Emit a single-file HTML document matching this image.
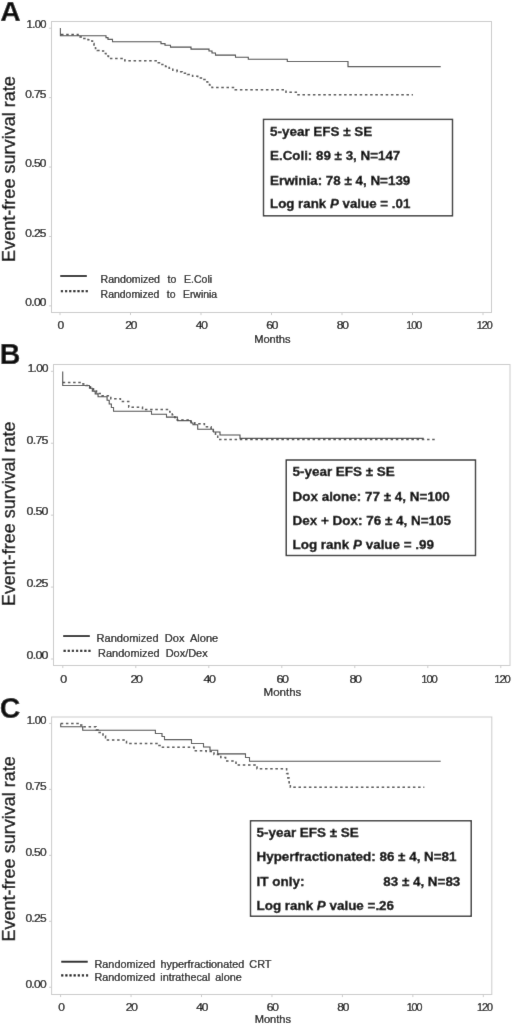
<!DOCTYPE html>
<html><head><meta charset="utf-8"><title>Figure</title>
<style>
html,body{margin:0;padding:0;background:#fff;}
svg{display:block;font-family:"Liberation Sans",sans-serif;}
text{stroke:#000;stroke-width:0.22px;}
</style></head>
<body>
<svg width="520" height="1026" viewBox="0 0 520 1026">
<defs><filter id="sf" x="0" y="0" width="520" height="1026" filterUnits="userSpaceOnUse"><feConvolveMatrix order="3" kernelMatrix="0.01 0.055 0.01 0.055 0.74 0.055 0.01 0.055 0.01" edgeMode="duplicate" preserveAlpha="true"/></filter></defs>
<g filter="url(#sf)">
<rect width="520" height="1026" fill="#fff"/>
<rect x="51.5" y="21.5" width="440.0" height="291.0" fill="none" stroke="#cbcbcb" stroke-width="1"/>
<line x1="60.00" y1="312.5" x2="60.00" y2="315.1" stroke="#cbcbcb" stroke-width="1"/>
<text x="57.56" y="329.10" font-size="10" letter-spacing="-1.00" textLength="5.47" lengthAdjust="spacingAndGlyphs" fill="#000">0</text>
<line x1="130.50" y1="312.5" x2="130.50" y2="315.1" stroke="#cbcbcb" stroke-width="1"/>
<text x="125.33" y="329.10" font-size="10" letter-spacing="-1.00" textLength="10.94" lengthAdjust="spacingAndGlyphs" fill="#000">20</text>
<line x1="201.00" y1="312.5" x2="201.00" y2="315.1" stroke="#cbcbcb" stroke-width="1"/>
<text x="195.83" y="329.10" font-size="10" letter-spacing="-1.00" textLength="10.94" lengthAdjust="spacingAndGlyphs" fill="#000">40</text>
<line x1="271.50" y1="312.5" x2="271.50" y2="315.1" stroke="#cbcbcb" stroke-width="1"/>
<text x="266.33" y="329.10" font-size="10" letter-spacing="-1.00" textLength="10.94" lengthAdjust="spacingAndGlyphs" fill="#000">60</text>
<line x1="342.00" y1="312.5" x2="342.00" y2="315.1" stroke="#cbcbcb" stroke-width="1"/>
<text x="336.83" y="329.10" font-size="10" letter-spacing="-1.00" textLength="10.94" lengthAdjust="spacingAndGlyphs" fill="#000">80</text>
<line x1="412.50" y1="312.5" x2="412.50" y2="315.1" stroke="#cbcbcb" stroke-width="1"/>
<text x="406.34" y="329.10" font-size="10" letter-spacing="-1.00" textLength="14.72" lengthAdjust="spacingAndGlyphs" fill="#000">100</text>
<line x1="483.00" y1="312.5" x2="483.00" y2="315.1" stroke="#cbcbcb" stroke-width="1"/>
<text x="476.84" y="329.10" font-size="10" letter-spacing="-1.00" textLength="14.72" lengthAdjust="spacingAndGlyphs" fill="#000">120</text>
<line x1="48.9" y1="305.90" x2="51.5" y2="305.90" stroke="#cbcbcb" stroke-width="1"/>
<text x="25.33" y="306.00" font-size="10" letter-spacing="-0.60" textLength="20.47" lengthAdjust="spacingAndGlyphs" fill="#000">0.00</text>
<line x1="48.9" y1="236.47" x2="51.5" y2="236.47" stroke="#cbcbcb" stroke-width="1"/>
<text x="25.33" y="236.57" font-size="10" letter-spacing="-0.60" textLength="20.47" lengthAdjust="spacingAndGlyphs" fill="#000">0.25</text>
<line x1="48.9" y1="167.05" x2="51.5" y2="167.05" stroke="#cbcbcb" stroke-width="1"/>
<text x="25.33" y="167.15" font-size="10" letter-spacing="-0.60" textLength="20.47" lengthAdjust="spacingAndGlyphs" fill="#000">0.50</text>
<line x1="48.9" y1="97.62" x2="51.5" y2="97.62" stroke="#cbcbcb" stroke-width="1"/>
<text x="25.33" y="97.72" font-size="10" letter-spacing="-0.60" textLength="20.47" lengthAdjust="spacingAndGlyphs" fill="#000">0.75</text>
<line x1="48.9" y1="28.20" x2="51.5" y2="28.20" stroke="#cbcbcb" stroke-width="1"/>
<text x="26.63" y="28.30" font-size="10" letter-spacing="-0.60" textLength="19.17" lengthAdjust="spacingAndGlyphs" fill="#000">1.00</text>
<text x="254.20" y="343.3" font-size="10.6" textLength="36.4" lengthAdjust="spacingAndGlyphs" fill="#000">Months</text>
<text transform="translate(15.4,169.0) rotate(-90)" x="-92.90" font-size="17.8" textLength="185.8" lengthAdjust="spacingAndGlyphs" fill="#000" style="stroke-width:0.3px">Event-free survival rate</text>
<text x="0.3" y="21" font-size="28.4" font-weight="bold" fill="#0a0a0a">A</text>
<path d="M61.00,34.60H78.00V37.00H83.00V38.50H88.00V39.80H91.00V41.00H92.50V43.50H94.00V46.00H95.50V48.50H97.30V50.50H100.00V50.90H103.50V53.40H106.00V56.00H108.50V58.50H123.00V59.70H124.80V60.80H158.31V62.68H161.93V64.56H165.55V66.44H169.17V68.32H172.79V70.20H177.17V71.67H182.30V73.13H187.43V74.60H192.57V76.27H197.70V77.93H202.83V79.60H207.00V82.00H209.50V85.00H212.00V87.50H235.20V89.70H286.00V92.20H296.30V94.70H413.00" fill="none" stroke="#484848" stroke-width="1.5" stroke-dasharray="2.5 2.7"/>
<path d="M60.40,28.00H60.40V35.70H106.00V37.60H108.00V39.40H112.50V41.70H161.00V43.60H165.00V45.30H170.50V47.10H191.00V49.10H209.00V51.00H212.00V53.00H215.50V55.10H235.50V57.20H248.30V59.20H287.30V61.50H348.00V66.60H440.70" fill="none" stroke="#444" stroke-width="1.1"/>
<line x1="60.3" y1="276.0" x2="86.8" y2="276.0" stroke="#000" stroke-width="1.85"/>
<line x1="60.85" y1="291.1" x2="87.83" y2="291.1" stroke="#000" stroke-width="2.3" stroke-dasharray="2.2 1.94"/>
<text x="100.6" y="283" font-size="10.3" word-spacing="4.5" fill="#000" textLength="111.6" lengthAdjust="spacingAndGlyphs">Randomized to E.Coli</text>
<text x="100.6" y="297.5" font-size="10.3" word-spacing="4.5" fill="#000" textLength="116.6" lengthAdjust="spacingAndGlyphs">Randomized to Erwinia</text>
<rect x="263.5" y="119.4" width="189.0" height="96.4" fill="#fff" stroke="#222" stroke-width="1.4"/>
<text x="270.0" y="135.95" font-size="12.2" font-weight="bold" fill="#000" style="stroke-width:0.3px" textLength="102.3" lengthAdjust="spacingAndGlyphs">5-year EFS ± SE</text>
<text x="270.0" y="160.2" font-size="12.2" font-weight="bold" fill="#000" style="stroke-width:0.3px" textLength="130.3" lengthAdjust="spacingAndGlyphs">E.Coli: 89 ± 3, N=147</text>
<text x="270.0" y="184.7" font-size="12.2" font-weight="bold" fill="#000" style="stroke-width:0.3px" textLength="140.3" lengthAdjust="spacingAndGlyphs">Erwinia: 78 ± 4, N=139</text>
<text x="270.0" y="208.45" font-size="12.2" font-weight="bold" fill="#000" style="stroke-width:0.3px" textLength="140.3" lengthAdjust="spacingAndGlyphs">Log rank <tspan font-style="italic">P</tspan> value = .01</text>
<rect x="53.5" y="364.5" width="456.5" height="301.0" fill="none" stroke="#cbcbcb" stroke-width="1"/>
<line x1="62.80" y1="665.5" x2="62.80" y2="668.1" stroke="#cbcbcb" stroke-width="1"/>
<text x="60.28" y="683.10" font-size="10.4" letter-spacing="-1.04" textLength="5.69" lengthAdjust="spacingAndGlyphs" fill="#000">0</text>
<line x1="135.80" y1="665.5" x2="135.80" y2="668.1" stroke="#cbcbcb" stroke-width="1"/>
<text x="130.43" y="683.10" font-size="10.4" letter-spacing="-1.04" textLength="11.38" lengthAdjust="spacingAndGlyphs" fill="#000">20</text>
<line x1="208.80" y1="665.5" x2="208.80" y2="668.1" stroke="#cbcbcb" stroke-width="1"/>
<text x="203.43" y="683.10" font-size="10.4" letter-spacing="-1.04" textLength="11.38" lengthAdjust="spacingAndGlyphs" fill="#000">40</text>
<line x1="281.80" y1="665.5" x2="281.80" y2="668.1" stroke="#cbcbcb" stroke-width="1"/>
<text x="276.43" y="683.10" font-size="10.4" letter-spacing="-1.04" textLength="11.38" lengthAdjust="spacingAndGlyphs" fill="#000">60</text>
<line x1="354.80" y1="665.5" x2="354.80" y2="668.1" stroke="#cbcbcb" stroke-width="1"/>
<text x="349.43" y="683.10" font-size="10.4" letter-spacing="-1.04" textLength="11.38" lengthAdjust="spacingAndGlyphs" fill="#000">80</text>
<line x1="427.80" y1="665.5" x2="427.80" y2="668.1" stroke="#cbcbcb" stroke-width="1"/>
<text x="421.34" y="683.10" font-size="10.4" letter-spacing="-1.04" textLength="15.37" lengthAdjust="spacingAndGlyphs" fill="#000">100</text>
<line x1="500.80" y1="665.5" x2="500.80" y2="668.1" stroke="#cbcbcb" stroke-width="1"/>
<text x="494.34" y="683.10" font-size="10.4" letter-spacing="-1.04" textLength="15.37" lengthAdjust="spacingAndGlyphs" fill="#000">120</text>
<line x1="50.9" y1="659.00" x2="53.5" y2="659.00" stroke="#cbcbcb" stroke-width="1"/>
<text x="26.51" y="659.30" font-size="10.4" letter-spacing="-0.62" textLength="21.29" lengthAdjust="spacingAndGlyphs" fill="#000">0.00</text>
<line x1="50.9" y1="587.08" x2="53.5" y2="587.08" stroke="#cbcbcb" stroke-width="1"/>
<text x="26.51" y="587.38" font-size="10.4" letter-spacing="-0.62" textLength="21.29" lengthAdjust="spacingAndGlyphs" fill="#000">0.25</text>
<line x1="50.9" y1="515.15" x2="53.5" y2="515.15" stroke="#cbcbcb" stroke-width="1"/>
<text x="26.51" y="515.45" font-size="10.4" letter-spacing="-0.62" textLength="21.29" lengthAdjust="spacingAndGlyphs" fill="#000">0.50</text>
<line x1="50.9" y1="443.23" x2="53.5" y2="443.23" stroke="#cbcbcb" stroke-width="1"/>
<text x="26.51" y="443.53" font-size="10.4" letter-spacing="-0.62" textLength="21.29" lengthAdjust="spacingAndGlyphs" fill="#000">0.75</text>
<line x1="50.9" y1="371.30" x2="53.5" y2="371.30" stroke="#cbcbcb" stroke-width="1"/>
<text x="27.81" y="371.60" font-size="10.4" letter-spacing="-0.62" textLength="19.99" lengthAdjust="spacingAndGlyphs" fill="#000">1.00</text>
<text x="263.60" y="695.8" font-size="11" textLength="37.8" lengthAdjust="spacingAndGlyphs" fill="#000">Months</text>
<text transform="translate(15,513.8) rotate(-90)" x="-92.30" font-size="17.7" textLength="184.6" lengthAdjust="spacingAndGlyphs" fill="#000" style="stroke-width:0.3px">Event-free survival rate</text>
<text x="-0.2" y="364.4" font-size="28.6" font-weight="bold" fill="#0a0a0a">B</text>
<path d="M62.70,382.50H83.00V384.00H86.00V385.50H90.50V388.00H93.50V391.00H96.50V393.50H102.00V395.80H110.80V398.70H120.40V401.50H128.70V407.30H142.50V409.50H169.75V412.12H172.25V414.75H174.75V417.38H177.25V420.00H191.00V422.00H194.80V423.80H204.40V426.70H211.10V429.88H213.30V433.05H215.50V436.22H217.70V439.40H436.25" fill="none" stroke="#484848" stroke-width="1.5" stroke-dasharray="2.5 2.7"/>
<path d="M62.70,371.50H62.70V385.50H89.44V388.30H92.31V391.10H95.19V393.90H98.06V396.70H107.08V400.32H109.22V403.95H111.38V407.57H113.52V411.20H151.50V414.20H166.50V417.10H177.50V420.60H191.00V423.00H193.00V424.80H197.70V429.20H213.50V432.00H220.00V435.00H240.00V438.40H423.75" fill="none" stroke="#444" stroke-width="1.1"/>
<line x1="63.2" y1="636.1" x2="89.8" y2="636.1" stroke="#000" stroke-width="1.85"/>
<line x1="63.55" y1="650.9" x2="90.53" y2="650.9" stroke="#000" stroke-width="2.3" stroke-dasharray="2.2 1.94"/>
<text x="96.6" y="641.75" font-size="10.9" word-spacing="3" fill="#000" textLength="121.6" lengthAdjust="spacingAndGlyphs">Randomized Dox Alone</text>
<text x="98.1" y="656.75" font-size="10.9" word-spacing="3" fill="#000" textLength="109.6" lengthAdjust="spacingAndGlyphs">Randomized Dox/Dex</text>
<rect x="286.25" y="460" width="189.25" height="95.5" fill="#fff" stroke="#222" stroke-width="1.4"/>
<text x="292.5" y="476.45" font-size="12.2" font-weight="bold" fill="#000" style="stroke-width:0.3px" textLength="102.3" lengthAdjust="spacingAndGlyphs">5-year EFS ± SE</text>
<text x="292.5" y="500.95" font-size="12.2" font-weight="bold" fill="#000" style="stroke-width:0.3px" textLength="157.3" lengthAdjust="spacingAndGlyphs">Dox alone: 77 ± 4, N=100</text>
<text x="292.5" y="525.2" font-size="12.2" font-weight="bold" fill="#000" style="stroke-width:0.3px" textLength="158.55" lengthAdjust="spacingAndGlyphs">Dex + Dox: 76 ± 4, N=105</text>
<text x="292.5" y="548.95" font-size="12.2" font-weight="bold" fill="#000" style="stroke-width:0.3px" textLength="141.55" lengthAdjust="spacingAndGlyphs">Log rank <tspan font-style="italic">P</tspan> value = .99</text>
<rect x="51.6" y="717" width="440.2" height="277.5" fill="none" stroke="#cbcbcb" stroke-width="1"/>
<line x1="60.60" y1="994.5" x2="60.60" y2="997.1" stroke="#cbcbcb" stroke-width="1"/>
<text x="58.16" y="1011.30" font-size="10" letter-spacing="-1.00" textLength="5.47" lengthAdjust="spacingAndGlyphs" fill="#000">0</text>
<line x1="131.05" y1="994.5" x2="131.05" y2="997.1" stroke="#cbcbcb" stroke-width="1"/>
<text x="125.88" y="1011.30" font-size="10" letter-spacing="-1.00" textLength="10.94" lengthAdjust="spacingAndGlyphs" fill="#000">20</text>
<line x1="201.50" y1="994.5" x2="201.50" y2="997.1" stroke="#cbcbcb" stroke-width="1"/>
<text x="196.33" y="1011.30" font-size="10" letter-spacing="-1.00" textLength="10.94" lengthAdjust="spacingAndGlyphs" fill="#000">40</text>
<line x1="271.95" y1="994.5" x2="271.95" y2="997.1" stroke="#cbcbcb" stroke-width="1"/>
<text x="266.78" y="1011.30" font-size="10" letter-spacing="-1.00" textLength="10.94" lengthAdjust="spacingAndGlyphs" fill="#000">60</text>
<line x1="342.40" y1="994.5" x2="342.40" y2="997.1" stroke="#cbcbcb" stroke-width="1"/>
<text x="337.23" y="1011.30" font-size="10" letter-spacing="-1.00" textLength="10.94" lengthAdjust="spacingAndGlyphs" fill="#000">80</text>
<line x1="412.85" y1="994.5" x2="412.85" y2="997.1" stroke="#cbcbcb" stroke-width="1"/>
<text x="406.69" y="1011.30" font-size="10" letter-spacing="-1.00" textLength="14.72" lengthAdjust="spacingAndGlyphs" fill="#000">100</text>
<line x1="483.30" y1="994.5" x2="483.30" y2="997.1" stroke="#cbcbcb" stroke-width="1"/>
<text x="477.14" y="1011.30" font-size="10" letter-spacing="-1.00" textLength="14.72" lengthAdjust="spacingAndGlyphs" fill="#000">120</text>
<line x1="49.0" y1="987.25" x2="51.6" y2="987.25" stroke="#cbcbcb" stroke-width="1"/>
<text x="25.43" y="987.85" font-size="10" letter-spacing="-0.60" textLength="20.47" lengthAdjust="spacingAndGlyphs" fill="#000">0.00</text>
<line x1="49.0" y1="921.29" x2="51.6" y2="921.29" stroke="#cbcbcb" stroke-width="1"/>
<text x="25.43" y="921.89" font-size="10" letter-spacing="-0.60" textLength="20.47" lengthAdjust="spacingAndGlyphs" fill="#000">0.25</text>
<line x1="49.0" y1="855.33" x2="51.6" y2="855.33" stroke="#cbcbcb" stroke-width="1"/>
<text x="25.43" y="855.93" font-size="10" letter-spacing="-0.60" textLength="20.47" lengthAdjust="spacingAndGlyphs" fill="#000">0.50</text>
<line x1="49.0" y1="789.36" x2="51.6" y2="789.36" stroke="#cbcbcb" stroke-width="1"/>
<text x="25.43" y="789.96" font-size="10" letter-spacing="-0.60" textLength="20.47" lengthAdjust="spacingAndGlyphs" fill="#000">0.75</text>
<line x1="49.0" y1="723.40" x2="51.6" y2="723.40" stroke="#cbcbcb" stroke-width="1"/>
<text x="26.73" y="724.00" font-size="10" letter-spacing="-0.60" textLength="19.17" lengthAdjust="spacingAndGlyphs" fill="#000">1.00</text>
<text x="254.70" y="1022.6" font-size="10.6" textLength="36.4" lengthAdjust="spacingAndGlyphs" fill="#000">Months</text>
<text transform="translate(15.2,848.85) rotate(-90)" x="-92.70" font-size="17.8" textLength="185.4" lengthAdjust="spacingAndGlyphs" fill="#000" style="stroke-width:0.3px">Event-free survival rate</text>
<text x="-0.2" y="717.7" font-size="28.6" font-weight="bold" fill="#0a0a0a">C</text>
<path d="M60.70,723.50H80.00V725.00H81.70V726.80H96.00V730.00H98.00V732.60H103.00V736.00H105.50V739.90H124.00V741.50H126.50V743.40H159.00V745.50H161.00V747.30H194.00V750.80H206.30V751.50H214.00V754.60H220.80V757.50H225.60V761.00H236.00V765.00H255.00V767.00H257.00V768.80H286.62V773.42H287.88V778.05H289.12V782.67H290.38V787.30H424.30" fill="none" stroke="#484848" stroke-width="1.5" stroke-dasharray="2.5 2.7"/>
<path d="M60.70,723.50H60.70V726.80H82.70V730.20H155.40V733.50H162.00V736.50H164.50V739.60H191.50V743.50H203.50V747.00H210.00V750.30H217.70V753.90H245.50V757.50H249.50V761.30H440.70" fill="none" stroke="#444" stroke-width="1.1"/>
<line x1="61.25" y1="961.7" x2="87.7" y2="961.7" stroke="#000" stroke-width="1.85"/>
<line x1="61.15" y1="975.4" x2="88.13" y2="975.4" stroke="#000" stroke-width="2.3" stroke-dasharray="2.2 1.94"/>
<text x="94.5" y="967.6" font-size="10.6" word-spacing="2" fill="#000" textLength="176.9" lengthAdjust="spacingAndGlyphs">Randomized hyperfractionated CRT</text>
<text x="94.5" y="981.4" font-size="10.6" word-spacing="2" fill="#000" textLength="147.3" lengthAdjust="spacingAndGlyphs">Randomized intrathecal alone</text>
<rect x="250.5" y="820.75" width="220.75" height="95.5" fill="#fff" stroke="#222" stroke-width="1.4"/>
<text x="256.5" y="837.2" font-size="12.2" font-weight="bold" fill="#000" style="stroke-width:0.3px" textLength="102.3" lengthAdjust="spacingAndGlyphs">5-year EFS ± SE</text>
<text x="256.5" y="861.45" font-size="12.2" font-weight="bold" fill="#000" style="stroke-width:0.3px" textLength="200.05" lengthAdjust="spacingAndGlyphs">Hyperfractionated: 86 ± 4, N=81</text>
<text x="256.5" y="885.7" font-size="12.2" font-weight="bold" fill="#000" style="stroke-width:0.3px" textLength="48.099999999999994" lengthAdjust="spacingAndGlyphs">IT only:</text>
<text x="383.25" y="885.7" font-size="12.2" font-weight="bold" fill="#000" style="stroke-width:0.3px" textLength="77.05" lengthAdjust="spacingAndGlyphs">83 ± 4, N=83</text>
<text x="256.5" y="910.2" font-size="12.2" font-weight="bold" fill="#000" style="stroke-width:0.3px" textLength="137.55" lengthAdjust="spacingAndGlyphs">Log rank <tspan font-style="italic">P</tspan> value =.26</text>
</g>
</svg>
</body></html>
